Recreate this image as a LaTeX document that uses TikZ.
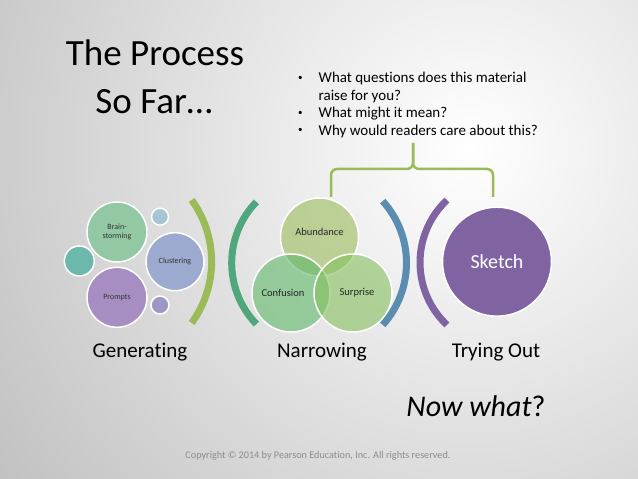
\documentclass[tikz,border=0pt]{standalone}
\usepackage{fontspec}
\setmainfont{Carlito}[Ligatures=NoCommon]
\usepackage{tikz}
\usetikzlibrary{positioning,calc}
\definecolor{OliveGreen}{HTML}{9BBB59}
\definecolor{SeaGreen}{HTML}{4FA77B}
\definecolor{SteelBlue}{HTML}{5A8DB0}
\definecolor{Plum}{HTML}{8064A2}
\definecolor{MintFill}{HTML}{92C9A4}
\definecolor{BlueFill}{HTML}{9CAACF}
\definecolor{LilacFill}{HTML}{A68EC3}
\definecolor{TealFill}{HTML}{6CB8AA}
\definecolor{SkyFill}{HTML}{A8C5D3}
\definecolor{IrisFill}{HTML}{9D97C8}
\definecolor{AbundFill}{HTML}{9BBC5C}
\definecolor{ConfFill}{HTML}{5FB769}
\definecolor{SurpFill}{HTML}{84C05D}
\tikzset{
    bubble/.style={circle, draw=white, line width=1.5pt, inner sep=0pt, font=\fontsize{8}{8.5}\selectfont, text=black!80, align=center},
    venn/.style={circle, draw=white, line width=1.5pt, fill opacity=0.6, minimum size=78pt, inner sep=0pt},
    vennlabel/.style={font=\fontsize{10.5}{12}\selectfont, text=black!85},
    stage/.style={font=\fontsize{21}{24}\selectfont, anchor=base},
    paren/.style={line width=7pt}
}
\newcommand{\qdot}{\raisebox{2.5pt}{\fontsize{9}{9}\selectfont\textbullet}}

\begin{document}
\begin{tikzpicture}[
                x=1pt, y=1pt,
                % Style cho ngoac nhon
                brace/.style={
                    draw=OliveGreen,
                    line width=2.5pt,
                    rounded corners=6pt
                }
            ]
                \useasboundingbox (0,0) rectangle (638,479);
                % Nen xam
                \begin{scope}
                    \clip (0,0) rectangle (638,479);
                    \shade[inner color=white, outer color=black!42] (470,330) circle (1000);
                \end{scope}

                % Tieu de
                \node[anchor=base, font=\fontsize{37}{40}\selectfont] (title) at (155,413) {The Process};
                \node[anchor=base, font=\fontsize{37}{40}\selectfont] (subtitle) at (154,365.7) {So Far…};

                % Cau hoi
                \node[anchor=base west, inner sep=0pt, font=\fontsize{15}{17.5}\selectfont] (questions) at (298,396.3)
                    {\begin{tabular}[t]{@{}l@{\hspace{16pt}}l@{}}
                        \qdot & What questions does this material\\
                              & raise for you?\\
                        \qdot & What might it mean?\\
                        \qdot & Why would readers care about this?
                    \end{tabular}};
                \draw[brace] (331,282) -- (331,310) -- (413,310) -- (413,336);
                \draw[brace] (493,282) -- (493,310) -- (413,310) -- (413,336);

                % Nhom Generating
                \node[bubble, fill=MintFill, minimum size=60pt] (brainstorm) at (117,247) {Brain-\\storming};
                \node[bubble, fill=SkyFill, minimum size=17pt] (skydot) at (160,262.3) {};
                \node[bubble, fill=TealFill, minimum size=30pt] (tealdot) at (79.3,218) {};
                \node[bubble, fill=BlueFill, minimum size=58pt] (clustering) at (175,217.3) {Clustering};
                \node[bubble, fill=LilacFill, minimum size=60pt] (prompts) at (117,181.7) {Prompts};
                \node[bubble, fill=IrisFill, minimum size=18pt] (irisdot) at (160,174) {};
                \draw[paren, OliveGreen] (107,217.5) ++(-36:104.6) arc[start angle=-36, end angle=36, radius=104.6];

                % Nhom Narrowing
                \draw[paren, SeaGreen] (319.7,216) ++(136:88) arc[start angle=136, end angle=224, radius=88];
                \node[venn, fill=AbundFill] (abundance) at (319.5,242) {};
                \node[venn, fill=ConfFill] (confusion) at (291,186) {};
                \node[venn, fill=SurpFill] (surprise) at (353,186) {};
                \node[vennlabel] (abundancetxt) at ([yshift=5]abundance.center) {Abundance};
                \node[vennlabel] (confusiontxt) at ([xshift=-8]confusion.center) {Confusion};
                \node[vennlabel] (surprisetxt) at ([xshift=4]surprise.center) {Surprise};
                \draw[paren, SteelBlue] (314,216) ++(-42:92.5) arc[start angle=-42, end angle=42, radius=92.5];

                % Nhom Trying Out
                \draw[paren, Plum] (505.8,216.5) ++(133.3:85.8) arc[start angle=133.3, end angle=226.7, radius=85.8];
                \node[bubble, fill=Plum, minimum size=109pt, text=white, font=\fontsize{20}{22}\selectfont] (sketch) at (497,217.3) {Sketch};

                % Nhan
                \node[stage] (generating) at (140,121) {Generating};
                \node[stage] (narrowing) at (322,121) {Narrowing};
                \node[stage] (tryingout) at (496,121) {Trying Out};

                \node[anchor=base, font=\fontsize{30}{34}\selectfont] (nowwhat) at (476,62.3) {\textit{Now what}?};
                \node[anchor=base, font=\fontsize{10.2}{12}\selectfont, text=black!45] (copyright) at (318,20)
                    {Copyright © 2014 by Pearson Education, Inc. All rights reserved.};
            \end{tikzpicture}
\end{document}
